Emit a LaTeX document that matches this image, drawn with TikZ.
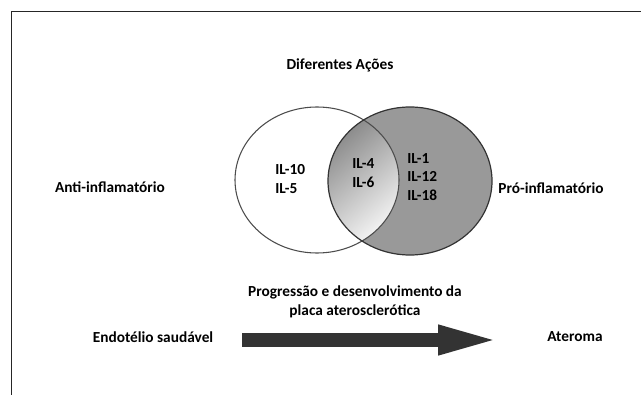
\documentclass[tikz,border=0pt]{standalone}
\usepackage{fontspec}
\setmainfont{Carlito}
\usepackage{tikz}
\usetikzlibrary{arrows.meta}

\definecolor{venngray}{HTML}{999999}
\definecolor{arrowgray}{HTML}{333333}

\begin{document}
\begin{tikzpicture}[x=0.75pt, y=0.75pt,
    lbl/.style={font=\fontsize{11.5}{14}\selectfont\bfseries, inner sep=0pt},
    ilbox/.style={lbl, align=left, anchor=west}]
            \useasboundingbox (0,0) rectangle (641,-395);
            \draw[color=black!85, line width=1.1pt] (11.5,-395) -- (11.5,-11.5) -- (641,-11.5);
            % the two sets
            \fill[white] (317,-180) ellipse [x radius=82, y radius=73];
            \fill[venngray] (410,-181) ellipse [x radius=82, y radius=74];
            \begin{scope}
                \clip (410,-181) ellipse [x radius=82, y radius=74];
                \clip (317,-180) ellipse [x radius=82, y radius=73];
                \shade[shading=axis, top color=black!50, bottom color=white, shading angle=40] (325,-104) rectangle (402,-256);
            \end{scope}
            \draw[color=black!70, line width=0.8pt] (317,-180) ellipse [x radius=82, y radius=73];
            \draw[color=black!80, line width=0.9pt] (410,-181) ellipse [x radius=82, y radius=74];
            \node[lbl] (title) at (340,-65) {Diferentes Ações};
            \node[ilbox] (anti) at (275,-179) {IL-10\\IL-5};
            \node[ilbox] (both) at (352,-173) {IL-4\\IL-6};
            \node[ilbox] (pro) at (407,-177) {IL-1\\IL-12\\IL-18};
            \node[lbl] (antilbl) at (110,-187) {Anti-inflamatório};
            \node[lbl] (prolbl) at (551,-188) {Pró-inflamatório};
            % progression
            \node[lbl, align=center] (prog) at (355,-302) {Progressão e desenvolvimento da\\placa aterosclerótica};
            \node[lbl] (endo) at (153,-337) {Endotélio saudável};
            \node[lbl] (atero) at (575,-337) {Ateroma};
            \coordinate (tail) at (242,-340);
            \coordinate (tip) at (503,-340);
            \draw[color=arrowgray, line width=10.5pt, -{Triangle[length=48.75pt, width=19.5pt]}] (tail) -- (tip);
        \end{tikzpicture}
\end{document}
